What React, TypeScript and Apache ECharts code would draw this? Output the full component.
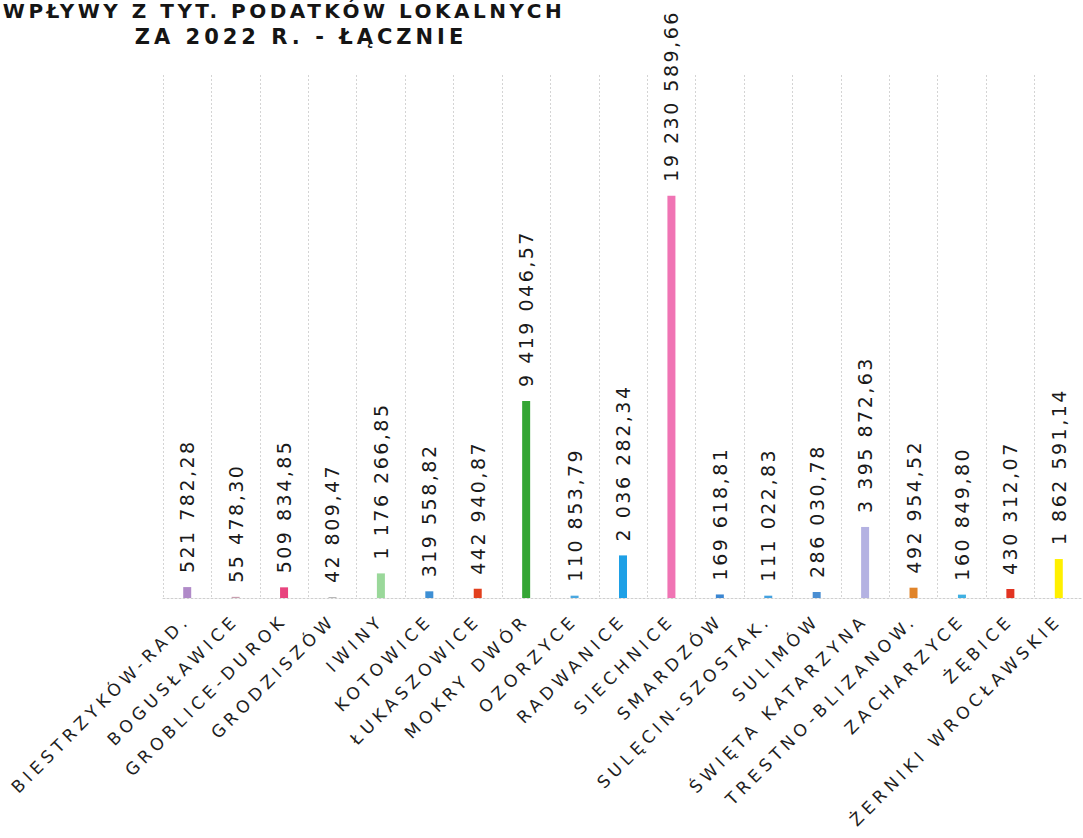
import React, { useEffect, useRef } from "react";
import * as echarts from "echarts";

const categories = [
  "BIESTRZYKÓW-RAD.",
  "BOGUSŁAWICE",
  "GROBLICE-DUROK",
  "GRODZISZÓW",
  "IWINY",
  "KOTOWICE",
  "ŁUKASZOWICE",
  "MOKRY DWÓR",
  "OZORZYCE",
  "RADWANICE",
  "SIECHNICE",
  "SMARDZÓW",
  "SULĘCIN-SZOSTAK.",
  "SULIMÓW",
  "ŚWIĘTA KATARZYNA",
  "TRESTNO-BLIZANOW.",
  "ZACHARZYCE",
  "ŻĘBICE",
  "ŻERNIKI WROCŁAWSKIE",
];

const values = [
  521782.28, 55478.3, 509834.85, 42809.47, 1176266.85, 319558.82, 442940.87,
  9419046.57, 110853.79, 2036282.34, 19230589.66, 169618.81, 111022.83,
  286030.78, 3395872.63, 492954.52, 160849.8, 430312.07, 1862591.14,
];

const barColors = [
  "#b08ac8", "#c9a0b0", "#e8447e", "#b0b0b0", "#9ad89a", "#3d8fd4",
  "#e2401e", "#34a534", "#4aa8e0", "#1ea0e6", "#f074b4", "#3a86d2",
  "#44a2e0", "#4a8ed2", "#b4b2e2", "#e0842a", "#3fb0e2", "#e23422",
  "#fff000",
];

const titleLines = ["WPŁYWY Z TYT. PODATKÓW LOKALNYCH", "ZA 2022 R. - ŁĄCZNIE"];

function formatPL(v: number): string {
  const [i, d] = v.toFixed(2).split(".");
  return i.replace(/\B(?=(\d{3})+(?!\d))/g, " ") + "," + d;
}

export default function App() {
  const ref = useRef<HTMLDivElement>(null);
  useEffect(() => {
    if (!ref.current) return;
    const chart = echarts.init(ref.current, undefined, { renderer: "svg" });
    chart.setOption({
      animation: false,
      backgroundColor: "#ffffff",
      grid: { left: 163, right: -2, top: 75, bottom: 240, containLabel: false },
      graphic: [
        {
          type: "text",
          x: 284,
          y: 11,
          style: {
            text: titleLines[0],
            font: 'bold 20px "DejaVu Sans"',
            fill: "#151515",
            textAlign: "center",
            textVerticalAlign: "middle",
          },
        },
        {
          type: "text",
          x: 301,
          y: 37,
          style: {
            text: titleLines[1],
            font: 'bold 21px "DejaVu Sans"',
            fill: "#151515",
            textAlign: "center",
            textVerticalAlign: "middle",
          },
        },
      ],
      xAxis: {
        type: "category",
        data: categories,
        axisTick: { show: false },
        axisLine: { show: true, lineStyle: { color: "#cfcfcf", type: [2, 2], width: 1 } },
        splitLine: { show: true, lineStyle: { color: "#d4d4d4", type: [2, 2], width: 1 } },
        axisLabel: {
          interval: 0,
          rotate: 45,
          margin: 19,
          color: "#1e1e1e",
          fontFamily: "DejaVu Sans",
          fontSize: 17,
        },
      },
      yAxis: {
        type: "value",
        min: 0,
        max: 25000000,
        show: false,
        splitLine: { show: false },
      },
      series: [
        {
          type: "bar",
          barWidth: 8,
          data: values.map((v, i) => ({ value: v, itemStyle: { color: barColors[i] } })),
          label: {
            show: true,
            position: "top",
            rotate: 90,
            align: "left",
            verticalAlign: "middle",
            distance: 14,
            color: "#1a1a1a",
            fontFamily: "DejaVu Sans",
            fontSize: 19,
            formatter: (p: any) => formatPL(p.value),
          },
        },
      ],
    });
    return () => chart.dispose();
  }, []);
  return (
    <>
      <style>{`
        #chartbox text[style*="21px"] { letter-spacing: 4px; }
        #chartbox text[style*="20px"] { letter-spacing: 3.5px; }
        #chartbox text[style*="19px"] { letter-spacing: 2.5px; }
        #chartbox text[style*="17px"] { letter-spacing: 4.7px; }
      `}</style>
      <div
        id="chartbox"
        ref={ref}
        style={{ position: "absolute", left: 0, top: 0, width: 1083, height: 838 }}
      />
    </>
  );
}
